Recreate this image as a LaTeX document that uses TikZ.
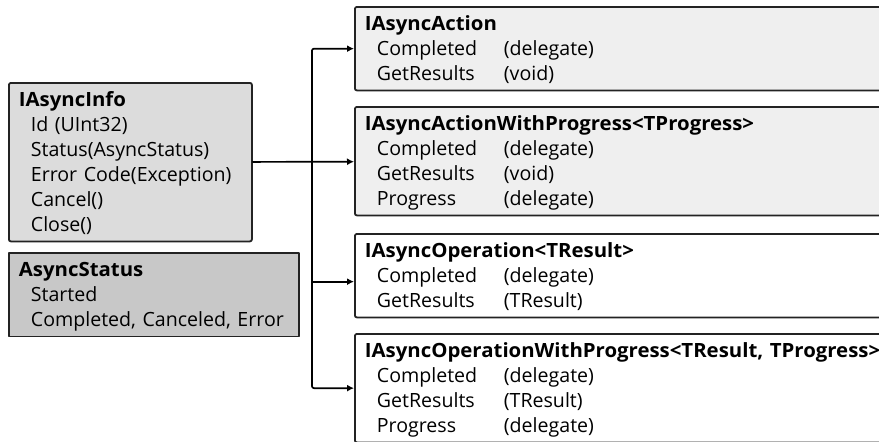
\documentclass[tikz,border=0pt]{standalone}
\usepackage{fontspec}
\setmainfont{Open Sans}[BoldFeatures={FakeStretch=1.04}]
\usetikzlibrary{arrows.meta}

\newcommand{\hd}[1]{\multicolumn{2}{@{}l@{}}{\rule{0pt}{21pt}\textbf{#1}}}
\newcommand{\hdone}[1]{\multicolumn{1}{@{}l@{}}{\rule{0pt}{21pt}\textbf{#1}}}

\begin{document}
\begin{tikzpicture}[x=1pt, y=-1pt, line join=round, line cap=round,
    box/.style={draw=boxline, line width=1.8pt, rounded corners=2pt, anchor=north west,
        inner xsep=10pt, inner ysep=2.5pt, font=\fontsize{19.6}{25}\selectfont},
    conn/.style={draw=black, line width=1.7pt, -{Latex[length=7pt,width=7pt]}}]
        \definecolor{boxline}{RGB}{35,35,35}
        \definecolor{infofill}{RGB}{220,220,220}
        \definecolor{statusfill}{RGB}{200,200,200}
        \definecolor{actionfill}{RGB}{239,239,239}

        \clip (0,0) rectangle (879,442);

        \node[box, fill=infofill, text width=223pt] (info) at (8,82) {%
            \begin{tabular}{@{\hspace{12pt}}l@{}}
            \hdone{IAsyncInfo}\\
            Id (UInt32)\\
            Status(AsyncStatus)\\
            Error Code(Exception)\\
            Cancel()\\
            Close()
            \end{tabular}};
        \node[box, fill=statusfill, rounded corners=0pt, text width=270pt] (status) at (8,252) {%
            \begin{tabular}{@{\hspace{12pt}}l@{}}
            \hdone{AsyncStatus}\\
            Started\\
            Completed, Canceled, Error
            \end{tabular}};

        \node[box, fill=actionfill, text width=560pt] (act) at (354,6) {%
            \begin{tabular}{@{\hspace{12pt}}p{127pt}@{}l@{}}
            \hd{IAsyncAction}\\
            Completed & (delegate)\\
            GetResults & (void)
            \end{tabular}};
        \node[box, fill=actionfill, text width=560pt] (actprog) at (354,106) {%
            \begin{tabular}{@{\hspace{12pt}}p{127pt}@{}l@{}}
            \hd{IAsyncActionWithProgress<TProgress>}\\
            Completed & (delegate)\\
            GetResults & (void)\\
            Progress & (delegate)
            \end{tabular}};
        \node[box, fill=white, text width=560pt] (op) at (354,233) {%
            \begin{tabular}{@{\hspace{12pt}}p{127pt}@{}l@{}}
            \hd{IAsyncOperation<TResult>}\\
            Completed & (delegate)\\
            GetResults & (TResult)
            \end{tabular}};
        \node[box, fill=white, text width=560pt] (opprog) at (354,333) {%
            \begin{tabular}{@{\hspace{12pt}}p{127pt}@{}l@{}}
            \hd{IAsyncOperationWithProgress<TResult, TProgress>}\\
            Completed & (delegate)\\
            GetResults & (TResult)\\
            Progress & (delegate)
            \end{tabular}};

        \coordinate (trunk) at (312,0);
        \draw[conn, {Latex[length=7pt,width=7pt]}-{Latex[length=7pt,width=7pt]}, rounded corners=2pt]
            (act.west) -- (act.west -| trunk) -- (opprog.west -| trunk) -- (opprog.west);
        \draw[conn] (info) -- (actprog);
        \draw[conn] ([yshift=-6pt]op.west -| trunk) -- ([yshift=-6pt]op.west);
    \end{tikzpicture}
\end{document}
